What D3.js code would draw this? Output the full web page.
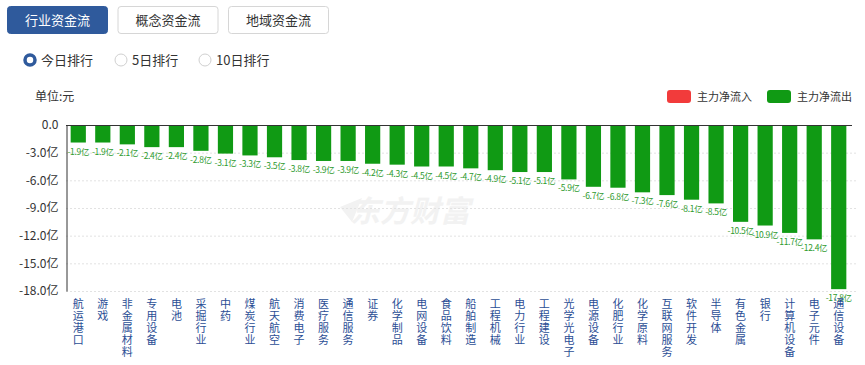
<!DOCTYPE html>
<html lang="zh">
<head>
<meta charset="UTF-8">
<title>行业资金流</title>
<script src="https://d3js.org/d3.v7.min.js"></script>
<style>
  body { margin: 0; background: #fff; font-family: "Noto Sans CJK SC", "Microsoft YaHei", sans-serif; }
  #chart { width: 865px; height: 365px; }
</style>
</head>
<body>
<div id="chart"></div>
<script>
// 行业名称
const industries = ["航运港口", "游戏", "非金属材料", "专用设备", "电池", "采掘行业", "中药", "煤炭行业",
  "航天航空", "消费电子", "医疗服务", "通信服务", "证券", "化学制品", "电网设备", "食品饮料",
  "船舶制造", "工程机械", "电力行业", "工程建设", "光学光电子", "电源设备", "化肥行业", "化学原料",
  "互联网服务", "软件开发", "半导体", "有色金属", "银行", "计算机设备", "电子元件", "通信设备"];
// 主力净流入 (亿元)
const netFlow = [-1.9, -1.9, -2.1, -2.4, -2.4, -2.8, -3.1, -3.3, -3.5, -3.8, -3.9, -3.9, -4.2, -4.3,
  -4.5, -4.5, -4.7, -4.9, -5.1, -5.1, -5.9, -6.7, -6.8, -7.3, -7.6, -8.1, -8.5, -10.5, -10.9,
  -11.7, -12.4, -17.8];
const yTicks = [0, -3, -6, -9, -12, -15, -18];
const tabs = ["行业资金流", "概念资金流", "地域资金流"];
const ranks = ["今日排行", "5日排行", "10日排行"];
const legendItems = ["主力净流入", "主力净流出"];

const W = 865, H = 365;
const inColor = "#f23b3b", outColor = "#109a14";

const svg = d3.select("#chart").append("svg").attr("width", W).attr("height", H);

// 顶部按钮
const tabX = d3.scalePoint().domain(tabs).range([7, 228]);
tabs.forEach((t, i) => {
  const g = svg.append("g").attr("transform", `translate(${tabX(t)},6)`);
  g.append("rect").attr("x", 0.5).attr("y", 0.5).attr("width", 100).attr("height", 27).attr("rx", 3)
    .attr("fill", i === 0 ? "#2f5a9c" : "#fff")
    .attr("stroke", i === 0 ? "#2f5a9c" : "#d6d6d6");
  g.append("text").attr("x", 50.5).attr("y", 19).attr("text-anchor", "middle")
    .attr("font-size", 13).attr("fill", i === 0 ? "#fff" : "#333").text(t);
});

// 单选
const radioX = [30, 121, 205];
ranks.forEach((r, i) => {
  const g = svg.append("g").attr("transform", `translate(${radioX[i]},60)`);
  if (i === 0) {
    g.append("circle").attr("r", 5).attr("fill", "#fff").attr("stroke", "#2f5a9c").attr("stroke-width", 3.5);
  } else {
    g.append("circle").attr("r", 6).attr("fill", "#fff").attr("stroke", "#d0d0d0");
  }
  g.append("text").attr("x", 11).attr("y", 5).attr("font-size", 13).attr("fill", "#333").text(r);
});

svg.append("text").attr("x", 35).attr("y", 101).attr("font-size", 12).attr("fill", "#333").text("单位:元");

// 图例
const legendX = [667, 767];
legendItems.forEach((l, i) => {
  svg.append("rect").attr("x", legendX[i]).attr("y", 90).attr("width", 24).attr("height", 13).attr("rx", 3)
    .attr("fill", i === 0 ? inColor : outColor);
  svg.append("text").attr("x", legendX[i] + 30).attr("y", 101).attr("font-size", 11).attr("fill", "#333").text(l);
});

// 水印
svg.append("text").attr("x", 410).attr("y", 222).attr("text-anchor", "middle")
  .attr("font-size", 30).attr("font-weight", "bold").attr("font-style", "italic")
  .attr("fill", "#f2f2f2").text("东方财富");
svg.append("path").attr("d", "M340,207 L362,198 L352,222 Z").attr("fill", "#f2f2f2");

const x = d3.scaleBand().domain(industries).range([66, 851]).paddingInner(0.38).paddingOuter(0.19);
const y = d3.scaleLinear().domain([0, -18]).range([125, 291]);

// 网格
svg.append("g").selectAll("line").data(yTicks.filter(d => d !== 0)).enter().append("line")
  .attr("x1", 66).attr("x2", 856).attr("y1", d => y(d) + 0.5).attr("y2", d => y(d) + 0.5)
  .attr("stroke", "#e2e2e2").attr("stroke-dasharray", "2,2");

// y 轴
const yAxis = svg.append("g").attr("transform", "translate(66.5,0)")
  .call(d3.axisLeft(y).tickValues(yTicks).tickSize(0).tickPadding(8)
    .tickFormat(d => d === 0 ? "0.0" : d.toFixed(1) + "亿"));
yAxis.select(".domain").attr("stroke", "#333");
yAxis.selectAll("text").attr("font-size", 12).attr("fill", "#333")
  .attr("font-family", "'Noto Sans CJK SC', sans-serif");

// 柱子
svg.append("g").selectAll("rect").data(netFlow).enter().append("rect")
  .attr("x", (d, i) => x(industries[i]))
  .attr("y", y(0))
  .attr("width", x.bandwidth())
  .attr("height", d => y(d) - y(0))
  .attr("fill", d => d >= 0 ? inColor : outColor);

// x 轴 (顶部 0 线)
svg.append("line").attr("x1", 66).attr("x2", 852).attr("y1", y(0) + 0.5).attr("y2", y(0) + 0.5)
  .attr("stroke", "#333");

// 数值标签
svg.append("g").selectAll("text").data(netFlow).enter().append("text")
  .attr("x", (d, i) => x(industries[i]) + x.bandwidth() / 2)
  .attr("y", d => y(d) + 12)
  .attr("text-anchor", "middle").attr("font-size", 8.5).attr("letter-spacing", -0.3)
  .attr("fill", "#2e9a2e")
  .text(d => d.toFixed(1) + "亿");

// 行业名称 (竖排)
const cats = svg.append("g").selectAll("text").data(industries).enter().append("text")
  .attr("font-size", 11).attr("fill", "#2b4e95").attr("text-anchor", "middle");
cats.each(function(name) {
  const t = d3.select(this);
  const cx = x(name) + x.bandwidth() / 2;
  Array.from(name).forEach((ch, k) => {
    t.append("tspan").attr("x", cx).attr("y", 308 + k * 12).text(ch);
  });
});
</script>
</body>
</html>
